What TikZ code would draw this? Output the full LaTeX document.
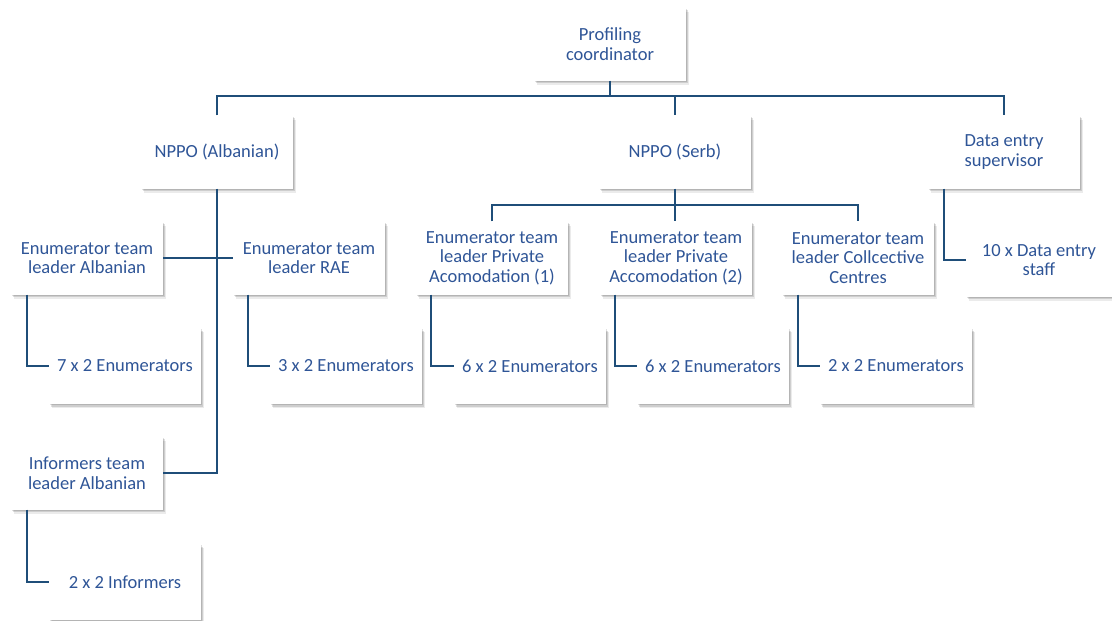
\documentclass[tikz,border=0pt]{standalone}
\usepackage{fontspec}
\setmainfont{Carlito}
\usetikzlibrary{shadows}
\definecolor{orgline}{HTML}{1F4E79}
\definecolor{orgtext}{HTML}{2F5597}
\begin{document}
\begin{tikzpicture}[
			x=1pt,y=-1pt,
			orgbox/.style={fill=white, minimum width=152pt, minimum height=73pt, inner sep=2pt,
				align=center, text=orgtext, font=\fontsize{18.5}{19.5}\selectfont,
				general shadow={shadow xshift=3pt,shadow yshift=-4pt,opacity=0.08,fill=black},
				general shadow={shadow xshift=2pt,shadow yshift=-2.5pt,opacity=0.12,fill=black},
				general shadow={shadow xshift=0.8pt,shadow yshift=-1pt,opacity=0.12,fill=black}},
			link/.style={draw=orgline, line width=2.2pt}
		]
		\useasboundingbox[fill=white] (0,0) rectangle (1112,621);
		% top
		\node[orgbox] (pc) at (610,44) {Profiling\\coordinator};
		\node[orgbox] (npa) at (217,152) {NPPO (Albanian)};
		\node[orgbox] (nps) at (675,152) {NPPO (Serb)};
		\node[orgbox] (des) at (1004,152) {Data entry\\supervisor};
		% team leaders
		\node[orgbox] (ela) at (87,258) {Enumerator team\\leader Albanian};
		\node[orgbox] (elr) at (309,258) {Enumerator team\\leader RAE};
		\node[orgbox] (ep1) at (492,258) {Enumerator team\\leader Private\\Acomodation (1)};
		\node[orgbox] (ep2) at (676,258) {Enumerator team\\leader Private\\Accomodation (2)};
		\node[orgbox] (ecc) at (858,258) {Enumerator team\\leader Collcective\\Centres};
		\node[orgbox, minimum width=146pt] (dst) at (1039,260) {10 x Data entry\\staff};
		\node[orgbox] (ila) at (87,473) {Informers team\\leader Albanian};
		% teams
		\node[orgbox, minimum height=76pt] (e7) at (125,366) {7 x 2 Enumerators};
		\node[orgbox, minimum height=76pt] (e3) at (346,366) {3 x 2 Enumerators};
		\node[orgbox, minimum height=76pt] (e61) at (530,366) {6 x 2 Enumerators};
		\node[orgbox, minimum height=76pt] (e62) at (713,366) {6 x 2 Enumerators};
		\node[orgbox, minimum height=76pt] (e2) at (896,366) {2 x 2 Enumerators};
		\node[orgbox, minimum height=76pt] (i2) at (125,582) {2 x 2 Informers};
		% connectors
		\coordinate (bus) at (610,96);
		\coordinate (sbus) at (675,205);
		\draw[link] (pc.south) -- (bus);
		\draw[link] (npa.north) |- (bus) -| (des.north);
		\draw[link] (bus) -| (nps.north);
		\draw[link] (nps.south) -- (sbus);
		\draw[link] (ep1.north) |- (sbus) -| (ecc.north);
		\draw[link] (sbus) -- (sbus |- ep2.north);
		\draw[link] (npa.south) |- (ila.east);
		\draw[link] (ela.east) -- (elr.west);
		\draw[link] ([xshift=16pt]ela.south west) |- (e7.west);
		\draw[link] ([xshift=15pt]elr.south west) |- (e3.west);
		\draw[link] ([xshift=15pt]ep1.south west) |- (e61.west);
		\draw[link] ([xshift=15pt]ep2.south west) |- (e62.west);
		\draw[link] ([xshift=16pt]ecc.south west) |- (e2.west);
		\draw[link] ([xshift=16pt]des.south west) |- (dst.west);
		\draw[link] ([xshift=16pt]ila.south west) |- (i2.west);
	\end{tikzpicture}
\end{document}
